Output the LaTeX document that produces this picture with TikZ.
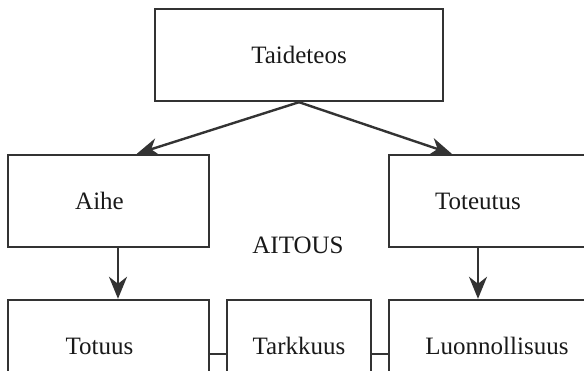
\documentclass[tikz,border=0pt]{standalone}
\usepackage{fontspec}
\setmainfont{Liberation Serif}
\usetikzlibrary{arrows.meta}
\definecolor{ink}{HTML}{333333}

\begin{document}
\begin{tikzpicture}[x=1pt, y=-1pt,
    box/.style={draw=ink, line width=2.4pt, minimum height=92pt, inner sep=0pt,
                font=\fontsize{25}{28}\selectfont, text=black!90},
    link/.style={draw=ink, line width=2.4pt},
    arr/.style={link, -{Stealth[length=22pt, width=18pt, inset=7pt]}}]
  \useasboundingbox (0,0) rectangle (584,371);
  % Boxes (the lower row runs past the bottom edge)
  \node[box, minimum width=288pt] (taideteos) at (299,55) {Taideteos};
  \node[box, minimum width=201pt] (aihe) at (108.5,201) {Aihe\hspace*{18pt}};
  \node[box, minimum width=216pt] (toteutus) at (497,201) {Toteutus\hspace*{38pt}};
  \node[box, minimum width=201pt] (totuus) at (108.5,346) {Totuus\hspace*{18pt}};
  \node[box, minimum width=144pt] (tarkkuus) at (299,346) {Tarkkuus};
  \node[box, minimum width=216pt] (luonnollisuus) at (497,346) {Luonnollisuus};
  % Free label
  \node[font=\fontsize{25}{28}\selectfont, text=black!90] (aitous) at (298,245) {AITOUS};
  % Arrows
  \draw[arr] (taideteos.south) -- ([xshift=130pt]aihe.north west);
  \draw[arr] (taideteos.south) -- ([xshift=64pt]toteutus.north west);
  \draw[arr] ([xshift=9.5pt]aihe.south) -- ([xshift=9.5pt]totuus.north);
  \draw[arr] ([xshift=-19pt]toteutus.south) -- ([xshift=-19pt]luonnollisuus.north);
  % Links in the lower row
  \draw[link] ([yshift=-8pt]totuus.east) -- ([yshift=-8pt]tarkkuus.west);
  \draw[link] ([yshift=-8pt]tarkkuus.east) -- ([yshift=-8pt]luonnollisuus.west);
\end{tikzpicture}
\end{document}
